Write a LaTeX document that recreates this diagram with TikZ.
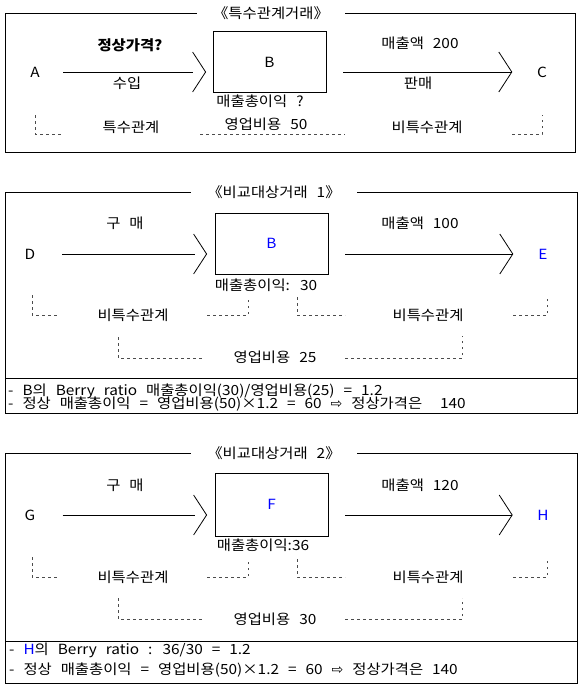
\documentclass[tikz,border=0pt]{standalone}
\usepackage{fontspec}
\setmainfont{Noto Sans CJK KR}[FakeStretch=1.1,WordSpace=2.6]
\newfontfamily\symfont{DejaVu Sans}
\newcommand\sz{\fontsize{14}{16}\selectfont}

\begin{document}
\begin{tikzpicture}[x=1pt,y=-1pt,font=\sz,
  every node/.style={inner sep=1pt},
  frame/.style={line width=0.8pt},
  flow/.style={line width=0.8pt},
  rel/.style={line width=0.8pt,black!70,dash pattern=on 2.5pt off 3.5pt},
  heading/.style={fill=white,inner xsep=16pt},
  item/.style={draw,line width=0.8pt,minimum width=113pt,minimum height=61pt},
  party/.style={minimum width=12pt},
  chev/.pic={\draw[line width=0.8pt] (-13,-20) -- (0,0) -- (-13,20);}]
\useasboundingbox (0,0) rectangle (580,685);

% special relationship
\draw[frame] (5,13) rectangle (575,152);
\node[heading] (t1) at (271,13) {《특수관계거래》};
\node[item] (B1) at (269.5,62) {B};
\node[party] (A) at (35,72) {A};
\node[party] (C) at (542,72) {C};
\draw[flow,shorten <=22pt,shorten >=20pt] (A) -- (A -| B1.west);
\pic[xshift=-7pt] at (A -| B1.west) {chev};
\draw[flow,shorten <=17pt,shorten >=24pt] (C -| B1.east) -- (C);
\pic[xshift=-24pt] at (C.west) {chev};
\node[font=\sz\bfseries] (q1) at (130,45) {정상가격?};
\node (buy1) at (127,83) {수입};
\node (sales1) at (420,43) {매출액 200};
\node (sell1) at (418,83) {판매};
\node (gp1) at (260,101) {매출총이익 ?};
\node (oc1) at (266,124) {영업비용 50};
\node (rel1) at (131,127) {특수관계};
\node (nrel1) at (427,127) {비특수관계};
\draw[rel] (35,115) |- (62,134);
\draw[rel] (200,134) -- (345,134);
\draw[rel] (512,134) -| (542,115);

% comparable 1
\draw[frame] (5,192) rectangle (577,413);
\draw[frame] (5,378) -- (577,378);
\node[heading] (t2) at (274,192) {《비교대상거래 1》};
\node[item,text=blue] (B2) at (271.5,243.5) {B};
\node[party] (D) at (30,254) {D};
\node[party,text=blue] (E) at (543,254) {E};
\draw[flow,shorten <=26pt,shorten >=20pt] (D) -- (D -| B2.west);
\pic[xshift=-8pt] at (D -| B2.west) {chev};
\draw[flow,shorten <=17pt,shorten >=24pt] (E -| B2.east) -- (E);
\pic[xshift=-24pt] at (E.west) {chev};
\node (buy2) at (125,223) {구 매};
\node (sales2) at (420,223) {매출액 100};
\node (gp2) at (266,285) {매출총이익: 30};
\node (nrel2a) at (133,315) {비특수관계};
\node (nrel2b) at (428,315) {비특수관계};
\node (oc2) at (275,357) {영업비용 25};
\draw[rel] (32,295) |- (58,315);
\draw[rel] (207,315) -| (248,297);
\draw[rel] (297,297) |- (345,315);
\draw[rel] (513,315) -| (547,297);
\draw[rel] (118,337) |- (203,358);
\draw[rel] (345,358) -| (462,336);
\node[anchor=west] (n2a) at (7,391) {- B의 Berry ratio 매출총이익(30)/영업비용(25) = 1.2};
\node[anchor=west] (n2b) at (7,404) {- 정상 매출총이익 = 영업비용(50)×1.2 = 60 {\symfont ⇨} 정상가격은~ 140};

% comparable 2
\draw[frame] (5,453) rectangle (577,683);
\draw[frame] (5,641) -- (577,641);
\node[heading] (t3) at (274,453) {《비교대상거래 2》};
\node[item,text=blue,minimum height=63pt] (F) at (271.5,504.5) {F};
\node[party] (G) at (30,515) {G};
\node[party,text=blue] (H) at (543,515) {H};
\draw[flow,shorten <=26pt,shorten >=20pt] (G) -- (G -| F.west);
\pic[xshift=-8pt] at (G -| F.west) {chev};
\draw[flow,shorten <=17pt,shorten >=24pt] (H -| F.east) -- (H);
\pic[xshift=-24pt] at (H.west) {chev};
\node (buy3) at (125,485) {구 매};
\node (sales3) at (420,485) {매출액 120};
\node (gp3) at (263,545) {매출총이익:36};
\node (nrel3a) at (133,577) {비특수관계};
\node (nrel3b) at (428,577) {비특수관계};
\node (oc3) at (275,619) {영업비용 30};
\draw[rel] (32,557) |- (58,577);
\draw[rel] (207,577) -| (248,559);
\draw[rel] (297,559) |- (345,577);
\draw[rel] (513,577) -| (547,559);
\draw[rel] (118,598) |- (203,619);
\draw[rel] (345,619) -| (462,598);
\node[anchor=west] (n3a) at (8,650) {- \textcolor{blue}{H}의 Berry ratio : 36/30 = 1.2};
\node[anchor=west] (n3b) at (8,670) {- 정상 매출총이익 = 영업비용(50)×1.2 = 60 {\symfont ⇨} 정상가격은 140};
\end{tikzpicture}
\end{document}
